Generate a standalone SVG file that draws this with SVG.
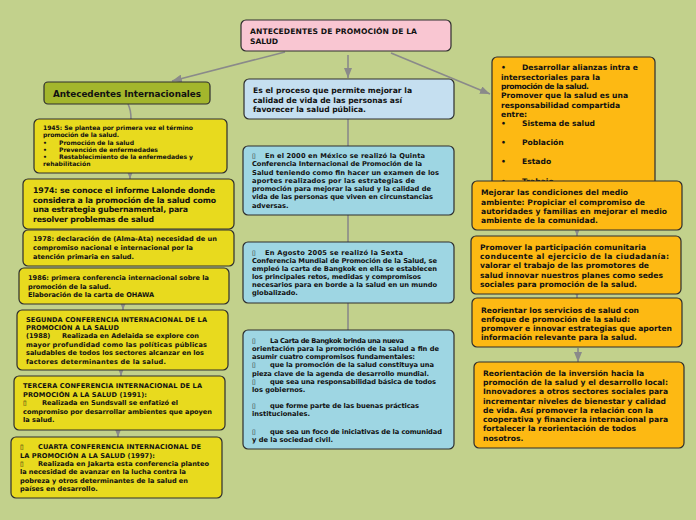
<svg xmlns="http://www.w3.org/2000/svg" width="696" height="520" viewBox="0 0 696 520">
<style>
text{font-family:"DejaVu Sans","Liberation Sans",sans-serif;font-weight:bold;fill:#111;}
.box{stroke:#2e2e2e;stroke-width:1.2;}
.pink{fill:#F9C6D2;}
.green{fill:#A3B62C;}
.lblue{fill:#C5DFF0;}
.teal{fill:#9ED6E3;}
.yel{fill:#E8DA1E;}
.org{fill:#FDB913;}
.con{stroke:#8A8A8A;stroke-width:1.6;fill:none;}
.s6{font-size:6.1px;}
.s65{font-size:6.6px;}
.s67{font-size:6.7px;}
.s76{font-size:7.6px;}
.s8{font-size:7.8px;}
.tf{font-weight:normal;}
</style>
<defs>
<marker id="ah" markerUnits="userSpaceOnUse" markerWidth="10" markerHeight="8" refX="10" refY="4" orient="auto">
<path d="M0,0 L10,4 L0,8 z" fill="#8A8A8A"/>
</marker>
</defs>
<rect width="696" height="520" fill="#C2D18C"/>
<g id="connectors">
<line class="con" x1="285" y1="52" x2="172" y2="81" marker-end="url(#ah)"/>
<line class="con" x1="348" y1="55" x2="348" y2="78" marker-end="url(#ah)"/>
<line class="con" x1="391" y1="53" x2="490" y2="94" marker-end="url(#ah)"/>
<path class="con" d="M128,104 Q131,110 131,119"/>
<line class="con" x1="130" y1="170" x2="130" y2="179" marker-end="url(#ah)"/>
<line class="con" x1="123" y1="300" x2="123" y2="310" marker-end="url(#ah)"/>
<line class="con" x1="121" y1="366" x2="121" y2="376" marker-end="url(#ah)"/>
<line class="con" x1="118" y1="427" x2="118" y2="437" marker-end="url(#ah)"/>
<line class="con" x1="348" y1="119" x2="348" y2="146"/>
<line class="con" x1="348" y1="215" x2="348" y2="242"/>
<line class="con" x1="348" y1="303" x2="348" y2="330"/>
<line class="con" x1="577" y1="226" x2="577" y2="236" marker-end="url(#ah)"/>
<line class="con" x1="577" y1="290" x2="577" y2="298" marker-end="url(#ah)"/>
<line class="con" x1="578" y1="348" x2="578" y2="362" marker-end="url(#ah)"/>
</g>
<g id="root">
<rect class="box pink" x="241" y="20" width="210" height="31" rx="5"/>
<text class="s76" x="250" y="34" textLength="167">ANTECEDENTES DE PROMOCIÓN DE LA</text>
<text class="s76" x="250" y="44" textLength="28">SALUD</text>
</g>
<g id="ant-int">
<rect class="box green" x="44" y="82" width="166" height="22" rx="4"/>
<text x="53" y="97" textLength="148" style="font-size:8.8px">Antecedentes Internacionales</text>
</g>
<g id="def">
<rect class="box lblue" x="244" y="79" width="210" height="40" rx="5"/>
<text class="s76" x="253" y="93" textLength="159">Es el proceso que permite mejorar la</text>
<text class="s76" x="253" y="102.5" textLength="149">calidad de vida de las personas así</text>
<text class="s76" x="253" y="112" textLength="113">favorecer la salud pública.</text>
</g>
<g id="m2000">
<rect class="box teal" x="243" y="146" width="211" height="69" rx="5"/>
<text class="s67 tf" x="252" y="158">▯</text>
<text class="s67" x="265" y="158" textLength="160">En el  2000 en México se realizó la Quinta</text>
<text class="s67" x="252" y="166" textLength="170">Conferencia Internacional de Promoción de la</text>
<text class="s67" x="252" y="174.5" textLength="187">Salud teniendo como fin  hacer un examen de los</text>
<text class="s67" x="252" y="182.5" textLength="163">aportes realizados  por las estrategias de</text>
<text class="s67" x="252" y="191" textLength="179">promoción para mejorar la salud y la calidad de</text>
<text class="s67" x="252" y="199" textLength="181">vida de las personas que viven en circunstancias</text>
<text class="s67" x="252" y="207.5">adversas.</text>
</g>
<g id="m2005">
<rect class="box teal" x="243" y="242" width="211" height="61" rx="5"/>
<text class="s67 tf" x="252" y="255">▯</text>
<text class="s67" x="265" y="255" textLength="138">En  Agosto 2005 se realizó la  Sexta</text>
<text class="s67" x="252" y="263" textLength="185">Conferencia Mundial de Promoción de la Salud, se</text>
<text class="s67" x="252" y="271" textLength="185">empleó la carta  de Bangkok  en ella se establecen</text>
<text class="s67" x="252" y="279" textLength="169">los principales retos, medidas y compromisos</text>
<text class="s67" x="252" y="287" textLength="185">necesarios para en borde a la salud en  un mundo</text>
<text class="s67" x="252" y="295">globalizado.</text>
</g>
<g id="mbangkok">
<rect class="box teal" x="243" y="330" width="211" height="119" rx="5"/>
<text class="s67 tf" x="252" y="343">▯</text>
<text class="s67" x="270" y="343" textLength="134">La Carta de Bangkok brinda una nueva</text>
<text class="s67" x="252" y="351" textLength="187">orientación para la promoción de la salud a  fin de</text>
<text class="s67" x="252" y="359" textLength="163">asumir cuatro compromisos fundamentales:</text>
<text class="s67 tf" x="252" y="367">▯</text>
<text class="s67" x="270" y="367" textLength="164">que la promoción de la salud constituya una</text>
<text class="s67" x="252" y="375.5" textLength="177">pieza clave de la agenda de desarrollo mundial.</text>
<text class="s67 tf" x="252" y="383.5">▯</text>
<text class="s67" x="270" y="383.5" textLength="166">que sea una responsabilidad básica de todos</text>
<text class="s67" x="252" y="392">los gobiernos.</text>
<text class="s67 tf" x="252" y="408">▯</text>
<text class="s67" x="270" y="408" textLength="149">que forme parte de las buenas prácticas</text>
<text class="s67" x="252" y="416">institucionales.</text>
<text class="s67 tf" x="252" y="434">▯</text>
<text class="s67" x="270" y="434" textLength="172">que sea un foco de iniciativas de la comunidad</text>
<text class="s67" x="252" y="442">y de la sociedad civil.</text>
</g>
<g id="r1">
<rect class="box org" x="492" y="57" width="163" height="140" rx="5"/>
<text class="s76" x="501" y="70">•</text>
<text class="s76" x="522" y="70" textLength="116">Desarrollar alianzas intra e</text>
<text class="s76" x="501" y="79.5" textLength="99">intersectoriales para la</text>
<text class="s76" x="501" y="88.5" textLength="88">promoción de la salud.</text>
<text class="s76" x="501" y="98" textLength="127">Promover que la salud es una</text>
<text class="s76" x="501" y="107.5" textLength="119">responsabilidad compartida</text>
<text class="s76" x="501" y="117">entre:</text>
<text class="s76" x="501" y="126">•</text>
<text class="s76" x="522" y="126" textLength="73">Sistema de salud</text>
<text class="s76" x="501" y="145">•</text>
<text class="s76" x="522" y="145">Población</text>
<text class="s76" x="501" y="164">•</text>
<text class="s76" x="522" y="164">Estado</text>
<text class="s76" x="501" y="183.5">•</text>
<text class="s76" x="522" y="183.5">Trabajo</text>
</g>
<g id="r2">
<rect class="box org" x="472" y="181" width="210" height="49" rx="5"/>
<text class="s76" x="481" y="195" textLength="147">Mejorar las condiciones del medio</text>
<text class="s76" x="481" y="204.5" textLength="164">ambiente: Propiciar el compromiso de</text>
<text class="s76" x="481" y="213.5" textLength="186">autoridades y familias en mejorar el medio</text>
<text class="s76" x="481" y="223" textLength="117">ambiente de la comunidad.</text>
</g>
<g id="r3">
<rect class="box org" x="471" y="236" width="210" height="58" rx="5"/>
<text class="s76" x="480" y="249.5" textLength="166">Promover la participación comunitaria</text>
<text class="s76" x="480" y="259" textLength="189">conducente al ejercicio de la ciudadanía:</text>
<text class="s76" x="480" y="268" textLength="169">valorar el trabajo de las promotores de</text>
<text class="s76" x="480" y="277.5" textLength="183">salud innovar nuestros planes como sedes</text>
<text class="s76" x="480" y="286.5" textLength="157">sociales para promoción de la salud.</text>
</g>
<g id="r4">
<rect class="box org" x="472" y="298" width="210" height="49" rx="5"/>
<text class="s76" x="481" y="312.5" textLength="158">Reorientar los servicios de salud con</text>
<text class="s76" x="481" y="321.5" textLength="149">enfoque de promoción de la salud:</text>
<text class="s76" x="481" y="331" textLength="191">promover e innovar estrategias que aporten</text>
<text class="s76" x="481" y="340" textLength="156">información relevante para la salud.</text>
</g>
<g id="r5">
<rect class="box org" x="474" y="362" width="210" height="86" rx="5"/>
<text class="s76" x="483" y="375.5" textLength="161">Reorientación de la inversión hacia la</text>
<text class="s76" x="483" y="385" textLength="185">promoción de la salud y el desarrollo local:</text>
<text class="s76" x="483" y="394" textLength="185">Innovadores a otros sectores sociales para</text>
<text class="s76" x="483" y="403.5" textLength="183">incrementar niveles de bienestar y calidad</text>
<text class="s76" x="483" y="412.5" textLength="170">de vida. Así promover la relación con la</text>
<text class="s76" x="483" y="422" textLength="185">cooperativa y financiera internacional para</text>
<text class="s76" x="483" y="431" textLength="153">fortalecer la reorientación de todos</text>
<text class="s76" x="483" y="440.5">nosotros.</text>
</g>
<g id="l1945">
<rect class="box yel" x="34" y="119" width="193" height="54" rx="5"/>
<text class="s6" x="43" y="130" textLength="150">1945: Se plantea por primera vez el término</text>
<text class="s6" x="43" y="137" textLength="76">promoción de la salud.</text>
<text class="s6" x="43" y="144.5">•</text>
<text class="s6" x="59" y="144.5" textLength="75">Promoción de la salud</text>
<text class="s6" x="43" y="151.5">•</text>
<text class="s6" x="59" y="151.5" textLength="99">Prevención de enfermedades</text>
<text class="s6" x="43" y="158.5">•</text>
<text class="s6" x="59" y="158.5" textLength="134">Restablecimiento de la enfermedades y</text>
<text class="s6" x="43" y="165.5">rehabilitación</text>
</g>
<g id="l1974">
<rect class="box yel" x="23" y="179" width="211" height="50" rx="5"/>
<text class="s8" x="33" y="193" textLength="182">1974: se conoce el informe Lalonde donde</text>
<text class="s8" x="33" y="202.5" textLength="183">considera a la promoción de la salud como</text>
<text class="s8" x="33" y="212" textLength="155">una estrategia gubernamental, para</text>
<text class="s8" x="33" y="221.5" textLength="121">resolver problemas de salud</text>
</g>
<g id="l1978">
<rect class="box yel" x="23" y="230" width="211" height="36" rx="5"/>
<text class="s65" x="33" y="241" textLength="184">1978: declaración de (Alma-Ata) necesidad de un</text>
<text class="s65" x="33" y="250" textLength="160">compromiso nacional e internacional por la</text>
<text class="s65" x="33" y="258.5" textLength="101">atención primaria en salud.</text>
</g>
<g id="l1986">
<rect class="box yel" x="19" y="268" width="210" height="36" rx="5"/>
<text class="s65" x="28" y="280" textLength="181">1986: primera conferencia internacional sobre la</text>
<text class="s65" x="28" y="289" textLength="83">promoción de la salud.</text>
<text class="s65" x="28" y="297" textLength="126">Elaboración de la carta de OHAWA</text>
</g>
<g id="l1988">
<rect class="box yel" x="17" y="310" width="211" height="60" rx="5"/>
<text class="s65" x="26" y="321.5" textLength="181">SEGUNDA CONFERENCIA INTERNACIONAL DE LA</text>
<text class="s65" x="26" y="329.5" textLength="93">PROMOCIÓN A LA SALUD</text>
<text class="s65" x="26" y="338">(1988)</text>
<text class="s65" x="62" y="338" textLength="137">Realizada en Adelaida se explore con</text>
<text class="s65" x="26" y="346.5" textLength="181">mayor profundidad como las políticas públicas</text>
<text class="s65" x="26" y="355" textLength="178">saludables de todos los sectores alcanzar en los</text>
<text class="s65" x="26" y="363.5" textLength="140">factores determinantes de la salud.</text>
</g>
<g id="l1991">
<rect class="box yel" x="14" y="376" width="211" height="54" rx="5"/>
<text class="s65" x="23" y="388" textLength="179">TERCERA CONFERENCIA INTERNACIONAL DE LA</text>
<text class="s65" x="23" y="396.5" textLength="124">PROMOCIÓN A LA SALUD (1991):</text>
<text class="s65 tf" x="23" y="405">▯</text>
<text class="s65" x="42" y="405" textLength="136">Realizada en Sundsvall se enfatizó el</text>
<text class="s65" x="23" y="413.5" textLength="189">compromiso por desarrollar ambientes que apoyen</text>
<text class="s65" x="23" y="422">la salud.</text>
</g>
<g id="l1997">
<rect class="box yel" x="11" y="437" width="211" height="61" rx="5"/>
<text class="s65 tf" x="20" y="449">▯</text>
<text class="s65" x="38" y="449" textLength="163">CUARTA CONFERENCIA INTERNACIONAL DE</text>
<text class="s65" x="20" y="457.5" textLength="135">LA PROMOCIÓN A LA SALUD (1997):</text>
<text class="s65 tf" x="20" y="466">▯</text>
<text class="s65" x="38" y="466" textLength="171">Realizada en Jakarta esta conferencia planteo</text>
<text class="s65" x="20" y="474" textLength="166">la necesidad de avanzar en la lucha contra la</text>
<text class="s65" x="20" y="482.5" textLength="168">pobreza y otros determinantes de la salud en</text>
<text class="s65" x="20" y="491">países en desarrollo.</text>
</g>
</svg>
